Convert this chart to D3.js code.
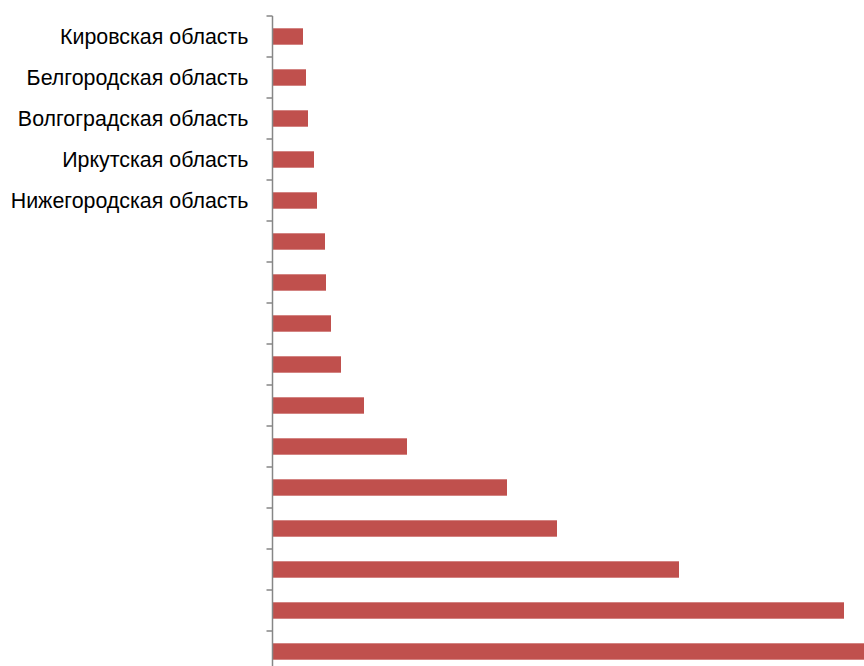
<!DOCTYPE html>
<html lang="ru">
<head>
<meta charset="utf-8">
<title>Bar chart</title>
<script src="https://d3js.org/d3.v7.min.js"></script>
<style>
  body { margin: 0; background: #fff; }
  svg { display: block; }
</style>
</head>
<body>
<script>
// only the first five rows carry a visible name
const labels = ["Кировская область", "Белгородская область", "Волгоградская область",
                "Иркутская область", "Нижегородская область",
                "", "", "", "", "", "", "", "", "", "", ""];
const values = [30, 33, 35, 41, 44, 52, 53, 58, 68, 91, 134, 234, 284, 406, 571, 600];

const W = 864, H = 666;
const axisX = 272.5;
const topY = 16, bandStep = 41;

const svg = d3.select("body").append("svg")
    .attr("width", W)
    .attr("height", H);

const idx = d3.range(values.length);

const y = d3.scaleBand()
    .domain(idx)
    .range([topY, topY + bandStep * values.length])
    .paddingInner(0.6)
    .paddingOuter(0.3);

const x = d3.scaleLinear()
    .domain([0, 600])
    .range([axisX, axisX + 600]);

svg.selectAll("rect.bar")
    .data(values)
    .enter().append("rect")
    .attr("class", "bar")
    .attr("x", x(0) + 0.5)
    .attr("y", (d, i) => y(i))
    .attr("width", d => x(d) - x(0))
    .attr("height", y.bandwidth())
    .attr("fill", "#C0504D");

// category axis with ticks at band boundaries
const g = svg.append("g");
g.append("line")
    .attr("x1", axisX).attr("x2", axisX)
    .attr("y1", topY).attr("y2", topY + bandStep * values.length)
    .attr("stroke", "#868686").attr("stroke-width", 1.5);

g.selectAll("line.tick")
    .data(d3.range(values.length + 1))
    .enter().append("line")
    .attr("class", "tick")
    .attr("x1", axisX - 6).attr("x2", axisX)
    .attr("y1", i => topY + i * bandStep)
    .attr("y2", i => topY + i * bandStep)
    .attr("stroke", "#868686").attr("stroke-width", 1.5);

g.selectAll("text.lbl")
    .data(labels)
    .enter().append("text")
    .attr("class", "lbl")
    .attr("x", axisX - 24)
    .attr("y", (d, i) => y(i) + y.bandwidth() / 2)
    .attr("dy", "0.35em")
    .attr("text-anchor", "end")
    .style("font-family", "Liberation Sans, Arial, sans-serif")
    .style("font-size", "21.4px")
    .attr("fill", "#000")
    .text(d => d);
</script>
</body>
</html>
